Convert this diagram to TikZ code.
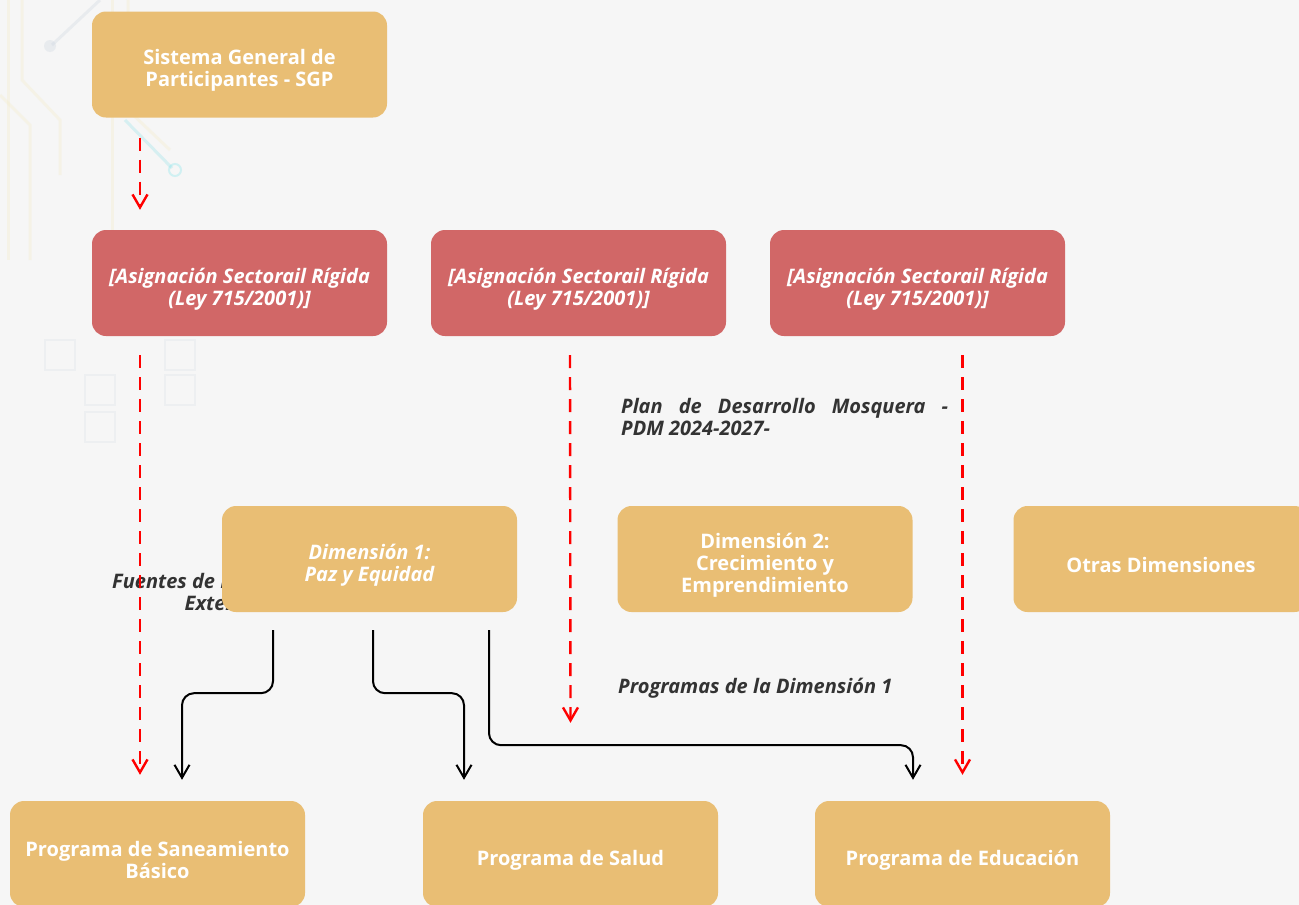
\documentclass[tikz,border=0pt]{standalone}
\usepackage{fontspec}
\setmainfont{Open Sans}
\usetikzlibrary{arrows.meta}
\definecolor{gold}{HTML}{E9BE74}
\definecolor{rojo}{HTML}{D16767}
\definecolor{bgc}{HTML}{F6F6F6}
\definecolor{txt}{HTML}{333333}
\definecolor{circy}{HTML}{F3EBC4}
\definecolor{circb}{HTML}{C9D3DE}
\tikzset{
  box/.style={rounded corners=14pt, minimum width=295pt, minimum height=106pt, inner sep=0pt},
  goldbox/.style={box, fill=gold},
  redbox/.style={box, fill=rojo},
  boxtxt/.style={text=white, align=center, inner sep=0pt, font=\fontsize{20}{22}\selectfont\bfseries},
  boxtxti/.style={boxtxt, font=\fontsize{20}{22}\selectfont\bfseries\itshape},
  lbl/.style={text=txt, font=\fontsize{20}{22}\selectfont\bfseries\itshape, inner sep=0pt},
  rdash/.style={draw=red, line width=2.4pt, dash pattern=on 13pt off 9pt,
    -{Straight Barb[length=13pt,width=15pt,line width=2.4pt]}},
  blk/.style={draw=black, line width=2pt, rounded corners=12pt,
    -{Straight Barb[length=13pt,width=15pt,line width=2pt]}},
  deco/.style={line width=3pt, opacity=0.3}
}
% \bx{box style}{text style}{name}{position}{text}
\newcommand\bx[5]{\node[#1] (#3) at #4 {};
  \node[#2] (#3t) at ([yshift=-6pt]#3.center) {#5};}
\begin{document}
\begin{tikzpicture}[x=1pt,y=-1pt]
\fill[bgc] (0,0) rectangle (1299,905);
\useasboundingbox (0,0) rectangle (1299,905);
\clip (0,0) rectangle (1299,905);
% faint background decoration
\draw[deco, circy] (8,0) -- (8,260);
\draw[deco, circy] (22,0) -- (22,80) -- (60,120) -- (60,175);
\draw[deco, circy] (0,95) -- (30,125) -- (30,260);
\draw[deco, circy] (112,0) -- (112,230);
\draw[deco, circy] (128,0) -- (128,110) -- (170,150);
\draw[deco, circb] (100,0) -- (52,45);
\fill[circb, opacity=0.3] (50,46) circle (6);
\draw[deco, circb!70!cyan] (125,120) -- (172,168);
\draw[circb!60!cyan, line width=2pt, opacity=0.3] (175,170) circle (6);
\foreach \p in {(45,340),(85,375),(165,340),(165,375),(85,412)}
  \draw[circb, line width=2pt, opacity=0.2] \p rectangle ++(30,30);

% nodes
\bx{goldbox}{boxtxt}{sgp}{(239.5,64.5)}{Sistema General de\\Participantes - SGP}
\bx{redbox}{boxtxti}{r1}{(239.5,283)}{[Asignación Sectorail Rígida\\(Ley 715/2001)]}
\bx{redbox}{boxtxti}{r2}{(578.5,283)}{[Asignación Sectorail Rígida\\(Ley 715/2001)]}
\bx{redbox}{boxtxti}{r3}{(917.5,283)}{[Asignación Sectorail Rígida\\(Ley 715/2001)]}

\node[lbl, anchor=north west, align=left] (pdm) at (621,398)
  {\makebox[327pt][s]{Plan de Desarrollo Mosquera -}\\PDM 2024-2027-};
\node[lbl, align=center] (fue) at (226,592) {Fuentes de Financiación\\Externas};

\bx{goldbox}{boxtxti}{d1}{(369.5,559)}{Dimensión 1:\\Paz y Equidad}
\bx{goldbox}{boxtxt}{d2}{(765,559)}{Dimensión 2:\\Crecimiento y\\Emprendimiento}
\bx{goldbox}{boxtxt}{otr}{(1161,559)}{Otras Dimensiones}

\node[lbl, anchor=west] (prg) at (618,688) {Programas de la Dimensión 1};

\bx{goldbox}{boxtxt}{san}{(157.5,854)}{Programa de Saneamiento\\Básico}
\bx{goldbox}{boxtxt}{sal}{(570.5,854)}{Programa de Salud}
\bx{goldbox}{boxtxt}{edu}{(962.5,854)}{Programa de Educación}

% red dashed arrows
\draw[rdash] ([xshift=-99.5pt,yshift=-20pt]sgp.south) -- ([xshift=-99.5pt,yshift=20pt]r1.north);
\draw[rdash] ([xshift=-99.5pt,yshift=-19pt]r1.south) -- ([xshift=-17.5pt,yshift=26pt]san.north);
\draw[rdash] ([xshift=-8.5pt,yshift=-19pt]r2.south) -- ([yshift=78pt]sal.north);
\draw[rdash] ([yshift=-19pt]edu.north |- r3.south) -- ([yshift=26pt]edu.north);

% black arrows
\draw[blk] ([xshift=-96.5pt,yshift=-18pt]d1.south) -- ++(0,63) -| ([xshift=24.5pt,yshift=21pt]san.north);
\draw[blk] ([xshift=3.5pt,yshift=-18pt]d1.south) -- ++(0,63) -| ([xshift=-106.5pt,yshift=21pt]sal.north);
\draw[blk] ([xshift=119.5pt,yshift=-18pt]d1.south) -- ++(0,115) -| ([xshift=-49.5pt,yshift=21pt]edu.north);
\end{tikzpicture}
\end{document}
